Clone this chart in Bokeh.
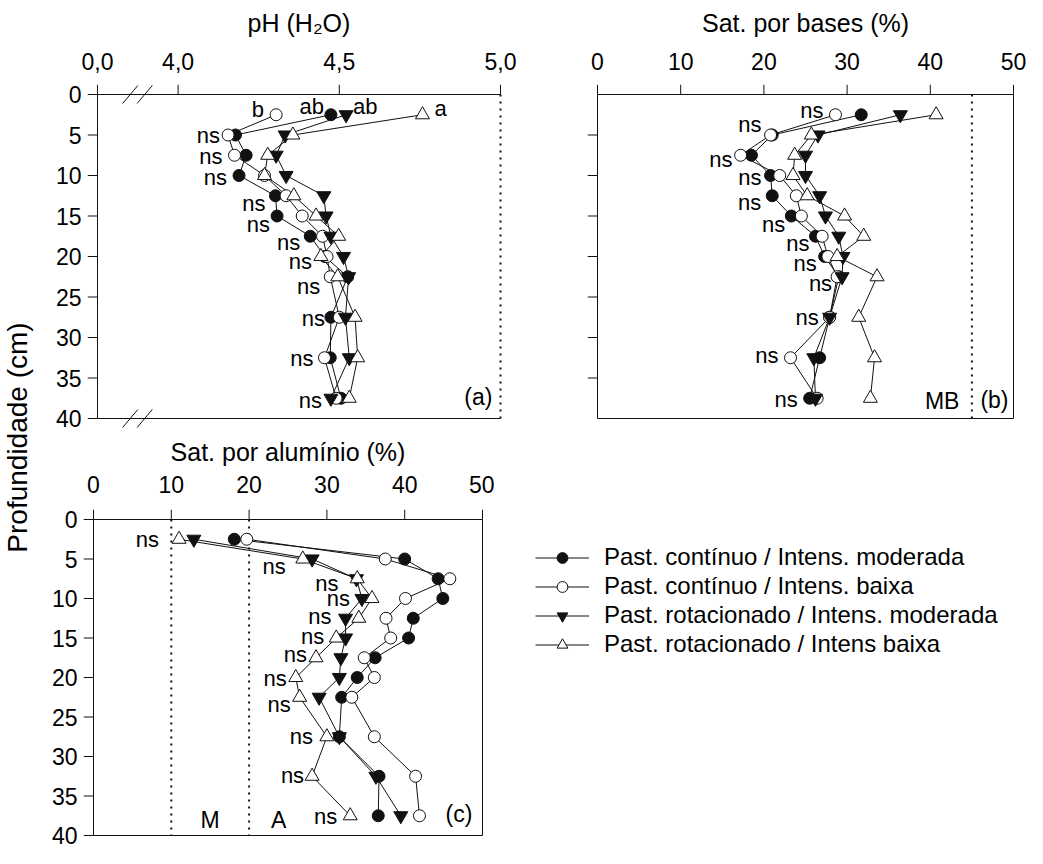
import math
from bokeh.plotting import figure
from bokeh.models import (Range1d, FixedTicker, CustomJSTickFormatter, Label,
                          Legend, LegendItem, ColumnDataSource)
from bokeh.layouts import row, column
from bokeh.embed import file_html
from bokeh.resources import INLINE
from bokeh.core.properties import value

# ---------------- data ----------------
depth = [2.5, 5, 7.5, 10, 12.5, 15, 17.5, 20, 22.5, 27.5, 32.5, 37.5]
series_names = ["Past. contínuo / Intens. moderada",
                "Past. contínuo / Intens. baixa",
                "Past. rotacionado / Intens. moderada",
                "Past. rotacionado / Intens baixa"]

# pH (H2O)
ph_cm = [4.474, 4.178, 4.211, 4.189, 4.302, 4.307, 4.410, 4.455, 4.526, 4.474, 4.472, 4.505]
ph_cb = [4.304, 4.155, 4.175, 4.268, 4.335, 4.385, 4.448, 4.462, 4.472, 4.500, 4.454, 4.490]
ph_rm = [4.521, 4.332, 4.304, 4.335, 4.452, 4.459, 4.474, 4.513, 4.529, 4.519, 4.531, 4.474]
ph_rb = [4.758, 4.356, 4.278, 4.268, 4.359, 4.428, 4.498, 4.443, 4.495, 4.549, 4.557, 4.531]
ph_letters = ["ab", "b", "ab", "a"]
ph_ticks = [3.75, 4.0, 4.5, 5.0]      # 3.75 is drawn as the broken-axis origin "0,0"

# Saturação por bases (%)
sb_cm = [31.7, 21.0, 18.5, 20.8, 21.0, 23.3, 26.2, 27.3, 29.0, 27.9, 26.7, 25.5]
sb_cb = [28.6, 20.8, 17.2, 21.9, 23.9, 24.5, 27.0, 27.7, 28.8, 27.9, 23.2, 26.4]
sb_rm = [36.4, 26.5, 25.0, 25.0, 26.7, 27.4, 29.0, 29.5, 29.4, 27.9, 26.0, 26.2]
sb_rb = [40.7, 25.7, 23.7, 23.5, 25.2, 29.7, 32.0, 28.8, 33.6, 31.4, 33.3, 32.8]
sb_ref = [45]

# Saturação por alumínio (%)
sa_cm = [18.1, 40.0, 44.3, 44.9, 41.1, 40.5, 36.2, 33.9, 31.9, 31.6, 36.7, 36.6]
sa_cb = [19.7, 37.5, 45.8, 40.1, 37.6, 38.2, 34.8, 36.1, 33.2, 36.1, 41.4, 41.9]
sa_rm = [12.9, 28.1, 33.8, 34.5, 32.4, 32.4, 31.8, 31.6, 29.0, 31.6, 36.3, 39.5]
sa_rb = [11.0, 26.9, 33.9, 35.8, 34.1, 31.2, 28.6, 26.0, 26.5, 30.0, 28.1, 33.0]
sa_ref = [10, 20]

pct_ticks = [0, 10, 20, 30, 40, 50]
depth_ticks = [0, 5, 10, 15, 20, 25, 30, 35, 40]

# ---------------- style ----------------
FONT = "Liberation Sans"
INK = "#111111"
TICK_FS = "23px"
TITLE_FS = "25px"
NS_FS = "22px"
PAD = 10            # frame extends PAD px beyond the drawn box (room for ticks / break marks)
markers = ["circle", "circle", "inverted_triangle", "triangle"]
fills = [INK, "white", INK, "white"]
msizes = [12, 12, 14, 14]


def make_panel(box_w, box_h, xlim, ylim, bl, br, bt, bb, title, xticks, yticks,
               right_dotted=False, xstand=15, tstand=13):
    x0, x1 = xlim
    y0, y1 = ylim
    dx = PAD * (x1 - x0) / box_w
    dy = PAD * (y1 - y0) / box_h
    p = figure(frame_width=box_w + 2 * PAD, frame_height=box_h + 2 * PAD,
               x_range=Range1d(x0 - dx, x1 + dx), y_range=Range1d(y1 + dy, y0 - dy),
               x_axis_location="above", output_backend="svg", toolbar_location=None,
               min_border_left=bl - PAD, min_border_right=br - PAD,
               min_border_top=bt - PAD, min_border_bottom=bb - PAD)
    p.grid.visible = False
    p.outline_line_color = None
    p.background_fill_color = "white"
    p.border_fill_color = "white"
    for ax in p.axis:
        ax.axis_line_color = None
        ax.major_tick_line_color = None
        ax.minor_tick_line_color = None
        ax.major_tick_out = 0
        ax.major_tick_in = 0
        ax.minor_tick_out = 0
        ax.minor_tick_in = 0
        ax.major_label_text_font = FONT
        ax.major_label_text_font_size = TICK_FS
        ax.major_label_text_color = "black"
        ax.axis_label_text_font = FONT
        ax.axis_label_text_font_size = TITLE_FS
        ax.axis_label_text_font_style = "normal"
        ax.axis_label_text_color = "black"
    p.xaxis.ticker = FixedTicker(ticks=xticks)
    p.yaxis.ticker = FixedTicker(ticks=yticks)
    p.xaxis.axis_label = title
    p.xaxis.major_label_standoff = xstand
    p.xaxis.axis_label_standoff = tstand
    p.yaxis.major_label_standoff = 6
    # box outline
    if right_dotted:
        p.segment(x0=[x0, x0, x0], y0=[y0, y0, y1], x1=[x1, x0, x1], y1=[y0, y1, y1],
                  line_color=INK, line_width=1)
        p.segment(x0=[x1], y0=[y0], x1=[x1], y1=[y1], line_color=INK, line_width=2, line_dash="2 5")
    else:
        p.segment(x0=[x0, x0, x0, x1], y0=[y0, y0, y1, y0], x1=[x1, x0, x1, x1], y1=[y0, y1, y1, y1],
                  line_color=INK, line_width=1)
    # outward tick marks (top and left)
    p.segment(x0=xticks, y0=[y0] * len(xticks), x1=xticks, y1=[y0 - dy] * len(xticks),
              line_color=INK, line_width=1)
    p.segment(x0=[x0] * len(yticks), y0=yticks, x1=[x0 - dx] * len(yticks), y1=yticks,
              line_color=INK, line_width=1)
    return p, dx, dy


def draw_series(p, data):
    for vals in data:
        p.line(vals, depth, line_color=INK, line_width=1)
    for i, vals in enumerate(data):
        p.scatter(vals, depth, marker=markers[i], size=msizes[i],
                  fill_color=fills[i], line_color=INK, line_width=1)


def ns_labels(p, data, rows, gaps, dys):
    xs, ys = [], []
    for r in rows:
        k = depth.index(r)
        xs.append(min(d[k] for d in data))
        ys.append(r)
    src = ColumnDataSource(dict(x=xs, y=ys, xo=[-g for g in gaps], yo=dys, t=["ns"] * len(xs)))
    p.text(x="x", y="y", text="t", x_offset="xo", y_offset="yo", source=src,
           text_align="right", text_baseline="middle", text_font=value(FONT),
           text_font_size=NS_FS, text_color="black")


def dotted(p, locs, ylim):
    p.segment(x0=locs, y0=[ylim[0]] * len(locs), x1=locs, y1=[ylim[1]] * len(locs),
              line_color=INK, line_width=2, line_dash="2 5")


def label(p, x, y, t, align="center"):
    p.add_layout(Label(x=x, y=y, text=t, text_align=align, text_baseline="middle",
                       text_font=FONT, text_font_size=TICK_FS, text_color="black"))


ylim = (depth_ticks[0], depth_ticks[-1])

# ---------------- panel (a) ----------------
pa, dxa, dya = make_panel(403, 324, (ph_ticks[0], ph_ticks[-1]), ylim, 52, 32, 94, 16,
                          "pH (H\u2082O)", ph_ticks, depth_ticks, right_dotted=True)
pa.xaxis.formatter = CustomJSTickFormatter(
    code="if (tick < 3.9) { return '0,0'; } return tick.toFixed(1).replace('.', ',');")
# axis-break slashes on the top and bottom edges
bx0 = [3.828, 3.873, 3.828, 3.873]
byc = [ylim[0], ylim[0], ylim[1], ylim[1]]
pa.segment(x0=bx0, y0=[b + 0.9 * dya for b in byc], x1=[b + 0.047 for b in bx0],
           y1=[b - 0.9 * dya for b in byc], line_color=INK, line_width=1)
data_a = [ph_cm, ph_cb, ph_rm, ph_rb]
draw_series(pa, data_a)
src_l = ColumnDataSource(dict(
    x=[d[0] for d in data_a], y=[depth[0]] * 4, t=ph_letters,
    al=["right", "right", "left", "left"], xo=[-7, -12, 7, 12], yo=[-8, -5, -8, -6]))
pa.text(x="x", y="y", text="t", x_offset="xo", y_offset="yo", text_align="al", source=src_l,
        text_baseline="middle", text_font=value(FONT), text_font_size=NS_FS, text_color="black")
ns_labels(pa, data_a, depth[1:], [8, 12, 12, 10, 7, 10, 9, 10, 6, 11, 9],
          [0, 1, 2, 8, 8, 6, 5, 10, 1, 1, 2])
label(pa, 4.975, 37.4, "(a)", "right")

# ---------------- panel (b) ----------------
pb, _, _ = make_panel(416, 324, (0, 50), ylim, 65, 14, 94, 16,
                      "Sat. por bases (%)", pct_ticks, depth_ticks[1:-1])
pb.yaxis.formatter = CustomJSTickFormatter(code="return '';")
dotted(pb, sb_ref, ylim)
data_b = [sb_cm, sb_cb, sb_rm, sb_rb]
draw_series(pb, data_b)
ns_labels(pb, data_b, depth, [12, 9, 8, 9, 11, 6, 6, 8, 5, 11, 12, 12],
          [-4, -11, 4, 2, 7, 8, 7, 7, 7, 0, -2, 1])
label(pb, 49.4, 37.7, "(b)", "right")
label(pb, 43.5, 37.9, "MB", "right")

# ---------------- panel (c) ----------------
pc, _, _ = make_panel(389, 316, (0, 50), ylim, 48, 12, 84, 14,
                      "Sat. por alumínio (%)", pct_ticks, depth_ticks, xstand=17, tstand=7)
dotted(pc, sa_ref, ylim)
data_c = [sa_cm, sa_cb, sa_rm, sa_rb]
draw_series(pc, data_c)
ns_labels(pc, data_c, depth, [20, 17, 18, 12, 14, 12, 9, 9, 9, 14, 8, 13],
          [0, 7, 5, 0, -2, -2, -3, 1, 7, 0, -1, 1])
label(pc, 48.7, 37.3, "(c)", "right")
label(pc, 15.0, 38.0, "M")
label(pc, 23.8, 38.0, "A")

# ---------------- legend panel ----------------
pl = figure(width=533, height=414, x_range=Range1d(0, 1), y_range=Range1d(0, 1),
            x_axis_type=None, y_axis_type=None, output_backend="svg", toolbar_location=None,
            min_border=0)
pl.outline_line_color = None
pl.border_fill_color = "white"
items = []
for i in range(4):
    # proxy renderers for the legend (kept outside the visible range)
    lr = pl.line(x=[2, 3], y=[2, 3], line_color=INK, line_width=1)
    mr = pl.scatter(x=[2], y=[2], marker=markers[i], size=msizes[i],
                    fill_color=fills[i], line_color=INK, line_width=1)
    items.append(LegendItem(label=series_names[i], renderers=[lr, mr]))
leg = Legend(items=items, location=(41, 186), orientation="vertical",
             border_line_color=None, background_fill_alpha=0, padding=0, margin=0,
             spacing=1, glyph_width=54, glyph_height=27, label_height=27, label_standoff=15,
             label_text_font=FONT, label_text_font_size="24px", label_text_color="black")
pl.add_layout(leg)

# ---------------- shared y label ----------------
py = figure(width=45, height=848, x_range=Range1d(0, 45), y_range=Range1d(0, 848),
            x_axis_type=None, y_axis_type=None, output_backend="svg", toolbar_location=None,
            min_border=0)
py.outline_line_color = None
py.border_fill_color = "white"
py.add_layout(Label(x=17, y=411, text="Profundidade (cm)", angle=math.pi / 2,
                    text_align="center", text_baseline="middle", text_font=FONT,
                    text_font_size="28px", text_color="black"))

layout = row(py, column(row(pa, pb), row(pc, pl)))
open("out.html", "w").write(file_html(layout, INLINE))
